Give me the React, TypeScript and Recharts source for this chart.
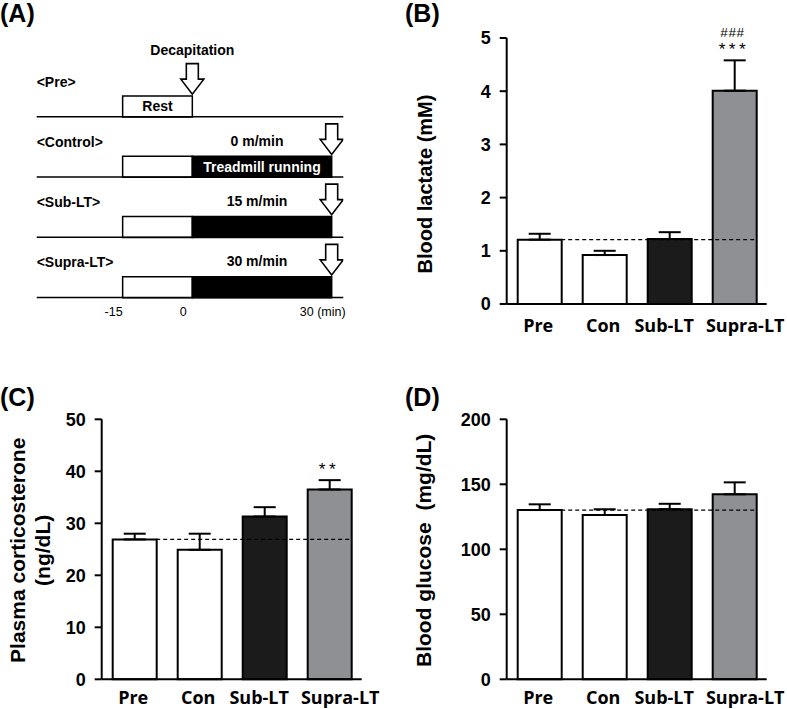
import {
  Bar,
  Cell,
  ComposedChart,
  ErrorBar,
  Label,
  ReferenceLine,
  Scatter,
  XAxis,
  YAxis,
} from "recharts";

const groups = ["Pre", "Con", "Sub-LT", "Supra-LT"];
const groupFills = ["#ffffff", "#ffffff", "#1b1b1b", "#8f9094"];

const lactateMean = [1.21, 0.92, 1.22, 4.01];
const lactateSem = [0.11, 0.08, 0.13, 0.57];
const lactateStars = ["", "", "", "***"];
const lactateHashes = ["", "", "", "###"];
const lactateTicks = [0, 1, 2, 3, 4, 5];

const corticoMean = [26.9, 24.9, 31.3, 36.5];
const corticoSem = [1.1, 3.1, 1.8, 1.8];
const corticoStars = ["", "", "", "**"];
const corticoTicks = [0, 10, 20, 30, 40, 50];

const glucoseMean = [130.2, 126.4, 130.8, 142.3];
const glucoseSem = [4.4, 4.4, 4.2, 9.2];
const glucoseStars = ["", "", "", ""];
const glucoseTicks = [0, 50, 100, 150, 200];

const noMarks = ["", "", "", ""];

// protocol timeline (panel A), minutes relative to end of rest
const protocolRows = ["<Pre>", "<Control>", "<Sub-LT>", "<Supra-LT>"];
const restMin = [-15, -15, -15, -15];
const runMin = [null, 30, 30, 30];
const decapMin = [0, 30, 30, 30];
const speedLabels = ["", "0 m/min", "15 m/min", "30 m/min"];
const restLabels = ["Rest", "", "", ""];
const runLabels = ["", "Treadmill running", "", ""];
const notes = ["Decapitation", "", "", ""];
const timeTicks = [-15, 0, 30];
const timeSpan = [-33.5, 32.5];

const SANS = "'Liberation Sans', Arial, sans-serif";
const OPEN = "'Open Sans', 'Liberation Sans', sans-serif";
const MONO = "'Liberation Mono', 'DejaVu Sans Mono', monospace";

const formatMinutes = (v: number) =>
  v === timeTicks[timeTicks.length - 1] ? `${v} (min)` : `${v}`;

function TimeTick(p: any) {
  return (
    <text
      x={p.x - 9}
      y={p.y - 5}
      dy="0.35em"
      textAnchor="middle"
      fontSize={12.5}
      fontFamily={SANS}
      fill="#000"
    >
      {formatMinutes(p.payload.value)}
    </text>
  );
}

// row baseline + row name, drawn 10.5px below the band centre (bottom of the boxes)
function makeBaseline(name: string) {
  return function BaselineShape(p: any) {
    const y = p.y1 + 10.5;
    return (
      <g>
        <line x1={p.x1} y1={y} x2={p.x2} y2={y} stroke="#000" strokeWidth={1.5} />
        <text
          x={p.x1}
          y={p.y1 - 24.5}
          dy="0.35em"
          textAnchor="start"
          fontSize={14}
          fontWeight={700}
          fontFamily={SANS}
          fill="#000"
        >
          {name}
        </text>
      </g>
    );
  };
}

function RestShape(p: any) {
  const x0 = Math.min(p.x, p.x + p.width);
  const w = Math.abs(p.width);
  if (!w) return <g />;
  const label = p.payload?.restLabel;
  return (
    <g>
      <rect x={x0} y={p.y} width={w} height={p.height} fill="#fff" stroke="#000" strokeWidth={1.5} />
      {label ? (
        <text
          x={x0 + w / 2}
          y={p.y + p.height / 2}
          dy="0.35em"
          textAnchor="middle"
          fontSize={14}
          fontWeight={700}
          fontFamily={SANS}
          fill="#000"
        >
          {label}
        </text>
      ) : null}
    </g>
  );
}

function RunShape(p: any) {
  const x0 = Math.min(p.x, p.x + p.width);
  const w = Math.abs(p.width);
  if (!w) return <g />;
  const speed = p.payload?.speed;
  const inner = p.payload?.runLabel;
  return (
    <g>
      <rect x={x0} y={p.y} width={w} height={p.height} fill="#000" stroke="#000" strokeWidth={1.5} />
      {speed ? (
        <text
          x={x0 + w / 2 - 5}
          y={p.y - 15.5}
          dy="0.35em"
          textAnchor="middle"
          fontSize={14}
          fontWeight={700}
          fontFamily={SANS}
          fill="#000"
        >
          {speed}
        </text>
      ) : null}
      {inner ? (
        <text
          x={x0 + w / 2}
          y={p.y + p.height / 2}
          dy="0.35em"
          textAnchor="middle"
          fontSize={14}
          fontWeight={700}
          fontFamily={SANS}
          fill="#fff"
        >
          {inner}
        </text>
      ) : null}
    </g>
  );
}

function DecapArrow(p: any) {
  const { cx, cy } = p;
  if (cx == null || cy == null) return <g />;
  const top = cy - 42.5;
  const head = cy - 27;
  const tip = cy - 12;
  const pts = [
    [cx - 6, top],
    [cx + 6, top],
    [cx + 6, head],
    [cx + 11.5, head],
    [cx, tip],
    [cx - 11.5, head],
    [cx - 6, head],
  ]
    .map((q) => q.join(","))
    .join(" ");
  return (
    <g>
      <polygon points={pts} fill="#fff" stroke="#000" strokeWidth={1.6} strokeLinejoin="miter" />
      {p.payload?.note ? (
        <text
          x={cx}
          y={cy - 56}
          dy="0.35em"
          textAnchor="middle"
          fontSize={14}
          fontWeight={700}
          fontFamily={SANS}
          fill="#000"
        >
          {p.payload.note}
        </text>
      ) : null}
    </g>
  );
}

function ProtocolChart() {
  const rows = protocolRows.map((row, i) => ({
    row,
    rest: restMin[i],
    run: runMin[i],
    decap: decapMin[i],
    speed: speedLabels[i],
    restLabel: restLabels[i],
    runLabel: runLabels[i],
    note: notes[i],
  }));

  return (
    <ComposedChart
      layout="vertical"
      width={380}
      height={330}
      data={rows}
      stackOffset="sign"
      margin={{ top: 76, right: 36.7, bottom: 0, left: 36.7 }}
    >
      <XAxis
        type="number"
        domain={timeSpan}
        ticks={timeTicks}
        allowDataOverflow
        axisLine={false}
        tickLine={false}
        tickSize={0}
        tickMargin={0}
        height={13}
        interval={0}
        tick={<TimeTick />}
      />
      <YAxis type="category" dataKey="row" hide />
      {protocolRows.map((r) => (
        <ReferenceLine key={r} y={r} shape={makeBaseline(r)} />
      ))}
      <Bar dataKey="rest" stackId="t" barSize={21} shape={RestShape} isAnimationActive={false} />
      <Bar dataKey="run" stackId="t" barSize={21} shape={RunShape} isAnimationActive={false} />
      <Scatter dataKey="decap" shape={DecapArrow} isAnimationActive={false} />
    </ComposedChart>
  );
}

function SigMark(p: any) {
  const { cx, cy, payload } = p;
  if (cx == null || cy == null) return <g />;
  return (
    <g>
      {payload?.hashes ? (
        <text x={cx - 2} y={cy - 23} textAnchor="middle" fontSize={13.5} fontFamily={MONO} fill="#000">
          {payload.hashes}
        </text>
      ) : null}
      {payload?.stars ? (
        <text x={cx - 2} y={cy - 5} textAnchor="middle" fontSize={17} fontFamily={MONO} fill="#000">
          {payload.stars}
        </text>
      ) : null}
    </g>
  );
}

function DashShape(p: any) {
  return (
    <line
      x1={p.x1 + 22}
      y1={p.y1}
      x2={p.x2 + 22}
      y2={p.y2}
      stroke="#000"
      strokeWidth={1.3}
      strokeDasharray="4 3"
    />
  );
}

// category labels sit a little apart in the original figure
function GroupTick(p: any) {
  const v = p.payload.value;
  const shift = v === groups[groups.length - 1] ? 11 : v === groups[2] ? -5 : -1;
  return (
    <text
      x={p.x + shift}
      y={p.y}
      dy="0.71em"
      textAnchor="middle"
      fontSize={18}
      fontWeight={700}
      fontFamily={OPEN}
      fill="#000"
    >
      {v}
    </text>
  );
}

type StatPanelProps = {
  means: number[];
  sems: number[];
  stars: string[];
  hashes: string[];
  ticks: number[];
  width: number;
  height: number;
  top: number;
  right: number;
  yWidth: number;
  xHeight: number;
  xGap: number;
  title: string[];
  titleX: number;
  titleDy: number;
  titleSize: number;
};

function StatPanel(props: StatPanelProps) {
  const { means, sems, stars, hashes, ticks } = props;
  const rows = groups.map((group, i) => ({
    group,
    mean: means[i],
    err: [0, sems[i]],
    top: means[i] + sems[i],
    stars: stars[i],
    hashes: hashes[i],
  }));
  const base = means[0];
  const yMax = ticks[ticks.length - 1];

  const renderTitle = (lp: any) => {
    const vb = lp.viewBox || { y: props.top, height: props.height - props.top - props.xHeight };
    const cy = vb.y + vb.height / 2 + props.titleDy;
    return (
      <g>
        {props.title.map((line, i) => {
          const x = props.titleX + i * 25;
          return (
            <text
              key={line}
              x={x}
              y={cy}
              dy="0.35em"
              textAnchor="middle"
              transform={`rotate(-90 ${x} ${cy})`}
              fontSize={props.titleSize}
              fontWeight={700}
              fontFamily={SANS}
              fill="#000"
              style={{ whiteSpace: "pre" }}
            >
              {line}
            </text>
          );
        })}
      </g>
    );
  };

  return (
    <ComposedChart
      width={props.width}
      height={props.height}
      data={rows}
      margin={{ top: props.top, right: props.right, bottom: 0, left: 0 }}
    >
      <XAxis
        dataKey="group"
        height={props.xHeight}
        axisLine={{ stroke: "#000", strokeWidth: 2 }}
        tickLine={false}
        tickSize={0}
        tickMargin={props.xGap}
        interval={0}
        tick={<GroupTick />}
      />
      <YAxis
        type="number"
        domain={[0, yMax]}
        ticks={ticks}
        interval={0}
        width={props.yWidth}
        axisLine={{ stroke: "#000", strokeWidth: 2 }}
        tickLine={{ stroke: "#000", strokeWidth: 2 }}
        tickSize={7}
        tickMargin={9}
        tick={{ fill: "#000", fontSize: 18, fontWeight: 700, fontFamily: SANS }}
      >
        <Label content={renderTitle} />
      </YAxis>
      <Bar dataKey="mean" barSize={44} stroke="#000" strokeWidth={2} isAnimationActive={false}>
        {rows.map((r, i) => (
          <Cell key={r.group} fill={groupFills[i]} />
        ))}
        <ErrorBar dataKey="err" direction="y" width={11} stroke="#000" strokeWidth={2} />
      </Bar>
      <ReferenceLine
        segment={[
          { x: groups[0], y: base },
          { x: groups[groups.length - 1], y: base },
        ]}
        shape={DashShape}
      />
      <Scatter dataKey="top" shape={SigMark} isAnimationActive={false} />
    </ComposedChart>
  );
}

function PanelTag({ left, top, text }: { left: number; top: number; text: string }) {
  return (
    <div
      style={{
        position: "absolute",
        left,
        top,
        fontSize: 25,
        lineHeight: "25px",
        fontWeight: 700,
        fontFamily: SANS,
        color: "#000",
      }}
    >
      {text}
    </div>
  );
}

export default function App() {
  return (
    <div
      style={{
        position: "absolute",
        left: 0,
        top: 0,
        width: 787,
        height: 709,
        background: "#fff",
        overflow: "hidden",
      }}
    >
      <div style={{ position: "absolute", left: 0, top: 0 }}>
        <ProtocolChart />
      </div>
      <div style={{ position: "absolute", left: 390, top: 0 }}>
        <StatPanel
          means={lactateMean}
          sems={lactateSem}
          stars={lactateStars}
          hashes={lactateHashes}
          ticks={lactateTicks}
          width={397}
          height={345}
          top={38}
          right={20.3}
          yWidth={116.7}
          xHeight={41}
          xGap={15}
          title={["Blood lactate (mM)"]}
          titleX={35}
          titleDy={13}
          titleSize={20}
        />
      </div>
      <div style={{ position: "absolute", left: 0, top: 330 }}>
        <StatPanel
          means={corticoMean}
          sems={corticoSem}
          stars={corticoStars}
          hashes={noMarks}
          ticks={corticoTicks}
          width={390}
          height={379}
          top={89.3}
          right={28.3}
          yWidth={101.7}
          xHeight={29.7}
          xGap={12}
          title={["Plasma corticosterone", "(ng/dL)"]}
          titleX={18}
          titleDy={1}
          titleSize={21}
        />
      </div>
      <div style={{ position: "absolute", left: 390, top: 330 }}>
        <StatPanel
          means={glucoseMean}
          sems={glucoseSem}
          stars={glucoseStars}
          hashes={noMarks}
          ticks={glucoseTicks}
          width={397}
          height={379}
          top={89.3}
          right={20.3}
          yWidth={116.7}
          xHeight={29.7}
          xGap={12}
          title={["Blood glucose  (mg/dL)"]}
          titleX={34}
          titleDy={1}
          titleSize={21}
        />
      </div>
      <PanelTag left={0} top={1} text="(A)" />
      <PanelTag left={405} top={1} text="(B)" />
      <PanelTag left={0} top={385} text="(C)" />
      <PanelTag left={405} top={385} text="(D)" />
    </div>
  );
}
